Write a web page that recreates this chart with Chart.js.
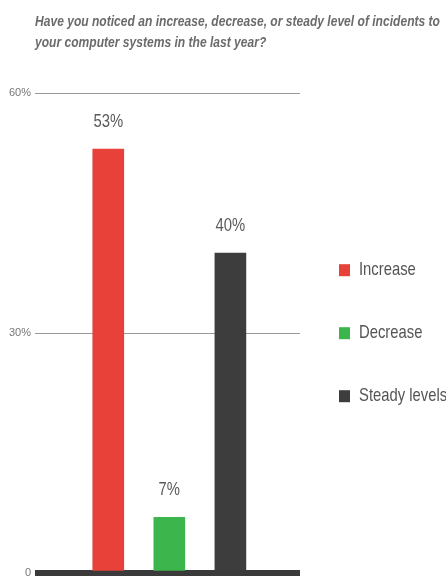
<!DOCTYPE html>
<html lang="en">
<head>
    <meta charset="UTF-8">
    <title>Incidents to computer systems</title>
    <script src="https://cdn.jsdelivr.net/npm/chart.js"></script>
    <style>
        body {
            margin: 0;
            padding: 0;
            background: #fff;
            font-family: "Liberation Sans", Arial, sans-serif;
        }

        .wrap {
            position: relative;
            width: 446px;
            height: 584px;
            overflow: hidden;
        }

        .title {
            position: absolute;
            left: 35px;
            top: 11px;
            font-size: 14px;
            font-style: italic;
            font-weight: bold;
            line-height: 21px;
            color: #6b6b6b;
            white-space: nowrap;
            transform-origin: left top;
        }
    </style>
</head>
<body>
    <div class="wrap">
        <canvas id="chart" width="446" height="584"></canvas>
        <div class="title" id="title">Have you noticed an increase, decrease, or steady level of incidents to<br>your computer systems in the last year?</div>
    </div>

    <script>
        // Data
        const categories = ['Increase', 'Decrease', 'Steady levels'];
        const values = [53, 7, 40];
        const colors = ['#e8413a', '#3cb54c', '#3d3d3d'];
        const yTicks = [0, 30, 60];
        const yTickLabels = ['0', '30%', '60%'];

        const FONT = '"Liberation Sans", Arial, sans-serif';
        const SQUEEZE = 0.78; // the original uses a condensed face

        // squeeze the title so the first line ends near the right edge
        const title = document.getElementById('title');
        title.style.transform = 'scaleX(' + (405 / title.offsetWidth) + ')';

        function narrowText(ctx, text, x, y) {
            ctx.save();
            ctx.translate(x, y);
            ctx.scale(SQUEEZE, 1);
            ctx.fillText(text, 0, 0);
            ctx.restore();
        }

        // one dataset per category so each bar keeps its own legend entry
        const datasets = categories.map((c, i) => ({
            label: c,
            data: [{ x: i + 1, y: values[i] }],
            backgroundColor: colors[i],
            barThickness: 31,
            grouped: false
        }));

        // value labels above bars
        const valueLabels = {
            id: 'valueLabels',
            afterDatasetsDraw(chart) {
                const ctx = chart.ctx;
                ctx.save();
                ctx.font = '19px ' + FONT;
                ctx.fillStyle = '#5a5a5a';
                ctx.textAlign = 'center';
                ctx.textBaseline = 'bottom';
                chart.data.datasets.forEach((ds, i) => {
                    const bar = chart.getDatasetMeta(i).data[0];
                    narrowText(ctx, values[i] + '%', bar.x, bar.y - 18);
                });
                ctx.restore();
            }
        };

        // vertical legend on the right, centred on the plot
        const sideLegend = {
            id: 'sideLegend',
            afterDraw(chart) {
                const ctx = chart.ctx;
                const area = chart.chartArea;
                const mid = (area.top + area.bottom) / 2;
                ctx.save();
                ctx.font = '19px ' + FONT;
                ctx.textBaseline = 'middle';
                chart.data.datasets.forEach((ds, i) => {
                    const y = mid + (i - 1) * 63;
                    ctx.fillStyle = ds.backgroundColor;
                    ctx.fillRect(339, y - 6, 11, 12);
                    ctx.fillStyle = '#555';
                    narrowText(ctx, ds.label, 359, y);
                });
                ctx.restore();
            }
        };

        new Chart(document.getElementById('chart'), {
            type: 'bar',
            data: { datasets: datasets },
            plugins: [valueLabels, sideLegend],
            options: {
                responsive: false,
                animation: false,
                layout: {
                    padding: { top: 93, right: 146, bottom: 9, left: 0 }
                },
                plugins: {
                    legend: { display: false },
                    tooltip: { enabled: false }
                },
                scales: {
                    x: {
                        type: 'linear',
                        min: -0.2,
                        max: 4.14,
                        offset: false,
                        display: false
                    },
                    y: {
                        min: 0,
                        max: 60,
                        afterFit(scale) { scale.width = 35; },
                        afterBuildTicks(scale) {
                            scale.ticks = yTicks.map(v => ({ value: v }));
                        },
                        border: { display: false },
                        grid: {
                            drawTicks: false,
                            color: ctx => ctx.tick && ctx.tick.value === 0 ? '#3a3a3a' : '#9a9a9a',
                            lineWidth: ctx => ctx.tick && ctx.tick.value === 0 ? 6 : 1
                        },
                        ticks: {
                            padding: 4,
                            color: '#777',
                            font: { family: FONT, size: 11 },
                            callback: v => yTickLabels[yTicks.indexOf(v)]
                        }
                    }
                }
            }
        });
    </script>
</body>
</html>
